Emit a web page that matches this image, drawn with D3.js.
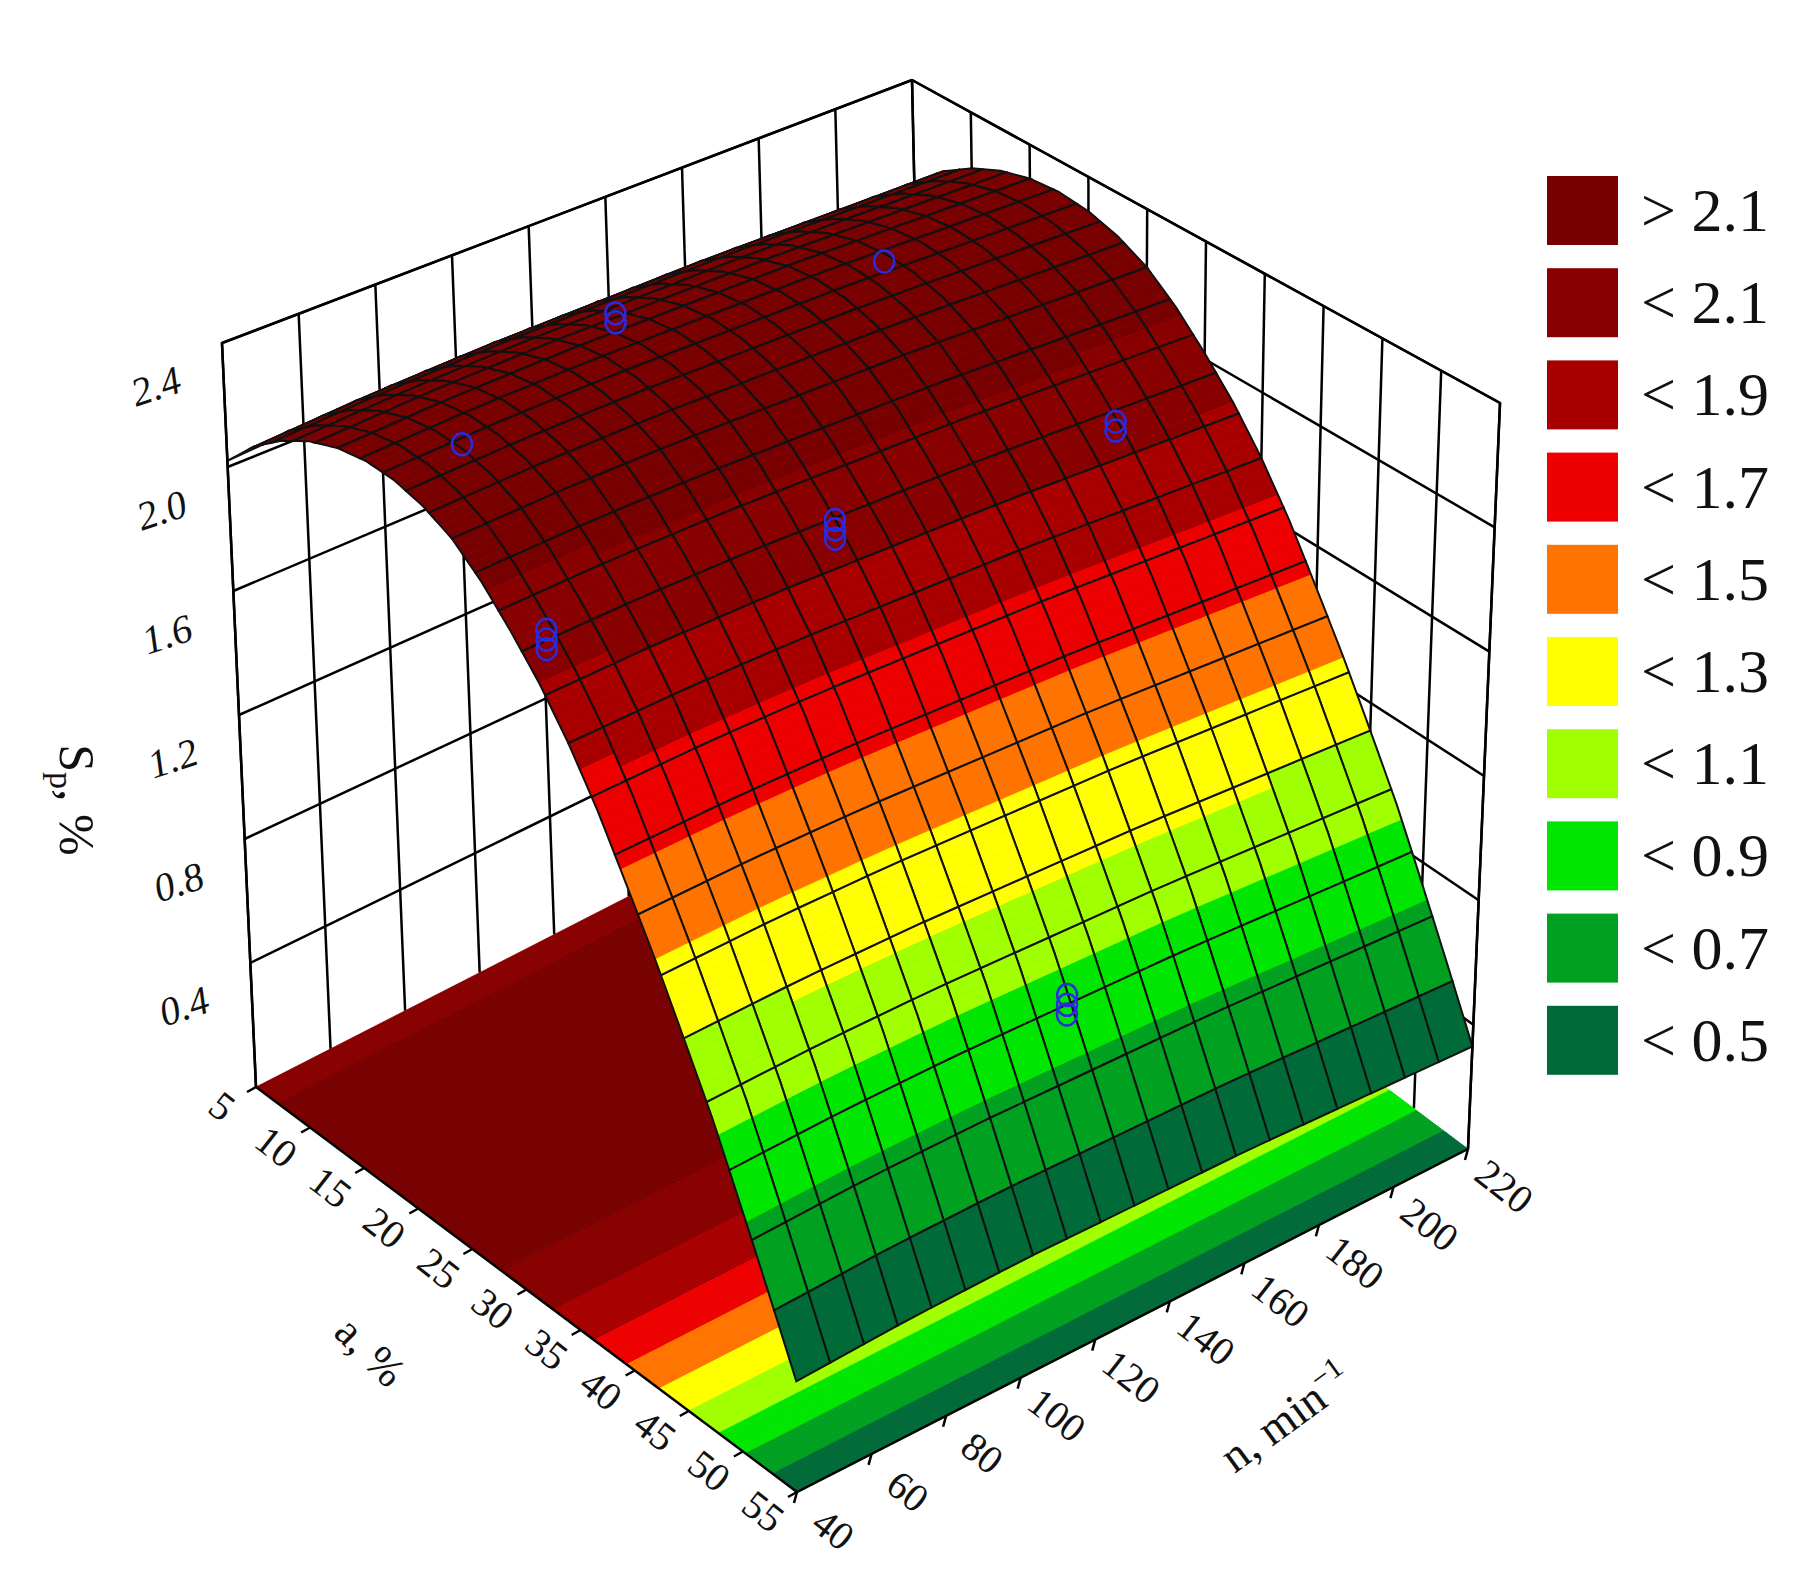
<!DOCTYPE html>
<html><head><meta charset="utf-8">
<script src="https://cdn.jsdelivr.net/npm/d3@7"></script>
<style>body{margin:0;background:#fff}</style>
</head><body>
<svg id="c" width="1803" height="1590"></svg>
<script>
// ---- data ----
const aTicks = [5,10,15,20,25,30,35,40,45,50,55];
const nTicks = [40,60,80,100,120,140,160,180,200,220];
const zTicks = [0.4,0.8,1.2,1.6,2.0,2.4];
const aProfile = [5,7.5,10,12.5,15,17.5,20,22.5,25,27.5,30,32.5,35,37.5,40,42.5,45,47.5,50,52.5,55];
const sProfile = [2.02,2.12,2.19,2.24,2.27,2.28,2.27,2.24,2.19,2.11,2.01,1.90,1.77,1.62,1.45,1.28,1.10,0.92,0.72,0.52,0.32];
const nProfile = [40,70,100,130,160,190,220];
const nEffect  = [0.00,0.02,0.03,0.03,0.03,0.02,0.01];
const legendLabels = ["> 2.1","< 2.1","< 1.9","< 1.7","< 1.5","< 1.3","< 1.1","< 0.9","< 0.7","< 0.5"];
const legendColors = ["#780000","#880000","#a80000","#ee0000","#ff7400","#ffff00","#a0ff00","#00e600","#00a020","#006a38"];
const bandLimits = [0.5,0.7,0.9,1.1,1.3,1.5,1.7,1.9,2.1];
const points = [ // a, n, S, count
  {a:15,n:72,s:2.13,k:1},{a:10,n:127,s:2.18,k:2},{a:14,n:185,s:2.15,k:1},
  {a:28,n:55,s:1.9,k:3},{a:28,n:130,s:1.88,k:3},{a:28,n:203,s:1.83,k:2},
  {a:48,n:132,s:0.82,k:3}];

// ---- projection ----
const uS = d3.scaleLinear([5,55],[0,1]);
const vS = d3.scaleLinear([40,220],[0,1]);
const wS = d3.scaleLinear([0,2.4],[0,1]);
const sOfA = d3.scaleLinear(aProfile, sProfile);
const eOfN = d3.scaleLinear(nProfile, nEffect);
const S = (a,n)=> sOfA(a)+eOfN(n);
const B = {c00:[256,1087],c10:[797,1492],c11:[1468,1149],c01:[927,744]};
const T = {c00:[222,343],c10:[792,662],c11:[1500,403],c01:[912,80]};
function bil(C,u,v){return [0,1].map(i=>(1-u)*(1-v)*C.c00[i]+u*(1-v)*C.c10[i]+u*v*C.c11[i]+(1-u)*v*C.c01[i]);}
function P(a,n,z){const u=uS(a),v=vS(n),w=wS(z);const b=bil(B,u,v),t=bil(T,u,v);return [b[0]+(t[0]-b[0])*w,b[1]+(t[1]-b[1])*w];}
const color = d3.scaleThreshold(bandLimits, legendColors.slice().reverse());
const svg = d3.select("#c");
const line = d3.line();
const font = "Liberation Serif, Times New Roman, serif";

// ---- walls ----
const g = svg.append("g").attr("fill","none").attr("stroke","#000").attr("stroke-width",2.5);
nTicks.forEach(n=>g.append("path").attr("d",line([P(5,n,0),P(5,n,2.4)])));
zTicks.forEach(z=>g.append("path").attr("d",line([P(5,40,z),P(5,220,z)])));
aTicks.forEach(a=>g.append("path").attr("d",line([P(a,220,0),P(a,220,2.4)])));
zTicks.forEach(z=>g.append("path").attr("d",line([P(5,220,z),P(55,220,z)])));

// ---- floor projection ----
const fg = svg.append("g");
d3.range(5,55,0.25).forEach(a=>{
  const a2=Math.min(a+0.25,55), col=color(sOfA(a+0.125));
  fg.append("path").attr("d",line([P(a,40,0),P(a2,40,0),P(a2,220,0),P(a,220,0)])+"Z")
   .attr("fill",col).attr("stroke",col).attr("stroke-width",0.8);
});

// ---- surface ----
const aG = d3.range(5,55.001,2), nG = d3.range(40,220.001,9);
const sub = 4;
const cells=[];
for(let i=0;i<aG.length-1;i++)for(let j=0;j<nG.length-1;j++) cells.push({a0:aG[i],a1:aG[i+1],n0:nG[j],n1:nG[j+1]});
cells.sort((p,q)=>((vS(q.n0)-uS(q.a0))-(vS(p.n0)-uS(p.a0))));
const sg = svg.append("g");
cells.forEach(c=>{
  for(let k=0;k<sub;k++){
    const a0=c.a0+(c.a1-c.a0)*k/sub, a1=c.a0+(c.a1-c.a0)*(k+1)/sub;
    const col=color(S((a0+a1)/2,(c.n0+c.n1)/2));
    sg.append("path").attr("d",line([P(a0,c.n0,S(a0,c.n0)),P(a1,c.n0,S(a1,c.n0)),P(a1,c.n1,S(a1,c.n1)),P(a0,c.n1,S(a0,c.n1))])+"Z")
      .attr("fill",col).attr("stroke",col).attr("stroke-width",0.8);
  }
  const pts=[];
  d3.range(0,sub+1).forEach(k=>{const a=c.a0+(c.a1-c.a0)*k/sub;pts.push(P(a,c.n0,S(a,c.n0)));});
  d3.range(sub,-1,-1).forEach(k=>{const a=c.a0+(c.a1-c.a0)*k/sub;pts.push(P(a,c.n1,S(a,c.n1)));});
  sg.append("path").attr("d",line(pts)+"Z").attr("fill","none").attr("stroke","#111").attr("stroke-width",2);
});

// ---- data points ----
const pg = svg.append("g").attr("fill","none").attr("stroke","#2a2ae0").attr("stroke-width",2.5);
points.forEach(p=>{
  for(let k=0;k<p.k;k++){const q=P(p.a,p.n,p.s-0.03*k);pg.append("ellipse").attr("cx",q[0]).attr("cy",q[1]).attr("rx",10).attr("ry",11);}
});

// ---- axes lines & ticks ----
const ax = svg.append("g").attr("stroke","#000").attr("stroke-width",2.5).attr("fill","none");
ax.append("path").attr("d",line([P(5,40,0),P(55,40,0),P(55,220,0)]));
ax.append("path").attr("d",line([P(5,40,0),P(5,40,2.4),P(5,220,2.4),P(55,220,2.4),P(55,220,0)]));
aTicks.forEach(a=>{const p=P(a,40,0);ax.append("path").attr("d",line([p,[p[0]-9,p[1]+5]]));});
nTicks.forEach(n=>{const p=P(55,n,0);ax.append("path").attr("d",line([p,[p[0]-3,p[1]+11]]));});

const tx = svg.append("g").attr("font-family",font).attr("fill","#111");
zTicks.forEach(z=>{const p=P(5,40,z);tx.append("text").attr("transform",`translate(${p[0]-62},${p[1]+56}) rotate(-18)`)
  .attr("text-anchor","middle").attr("font-size",40).attr("font-style","italic").text(z.toFixed(1));});
aTicks.forEach(a=>{const p=P(a,40,0);tx.append("text").attr("transform",`translate(${p[0]-42},${p[1]+30}) rotate(38)`)
  .attr("text-anchor","middle").attr("font-size",40).text(a);});
nTicks.forEach(n=>{const p=P(55,n,0);tx.append("text").attr("transform",`translate(${p[0]+28},${p[1]+48}) rotate(38)`)
  .attr("text-anchor","middle").attr("font-size",40).text(n);});
tx.append("text").attr("transform","translate(360,1362) rotate(45)").attr("text-anchor","middle").attr("font-size",44).text("a, %");
const nt = tx.append("text").attr("transform","translate(1295,1430) rotate(-36)").attr("text-anchor","middle").attr("font-size",46);
nt.append("tspan").text("n, min");nt.append("tspan").attr("dy",-18).attr("font-size",30).text("−1");
const zt = tx.append("text").attr("transform","translate(60,800) rotate(90)").attr("text-anchor","middle").attr("font-size",50);
zt.append("tspan").text("S");zt.append("tspan").attr("dy",10).attr("font-size",34).text("p");zt.append("tspan").attr("dy",-10).text(", %");

// ---- legend ----
const lg = svg.append("g");
legendLabels.forEach((l,i)=>{
  const y=176+i*92.2;
  lg.append("rect").attr("x",1547).attr("y",y).attr("width",71).attr("height",69).attr("fill",legendColors[i]);
  lg.append("text").attr("x",1641).attr("y",y+55).attr("font-family",font).attr("font-size",62).attr("fill","#111").text(l);
});
</script>
</body></html>
